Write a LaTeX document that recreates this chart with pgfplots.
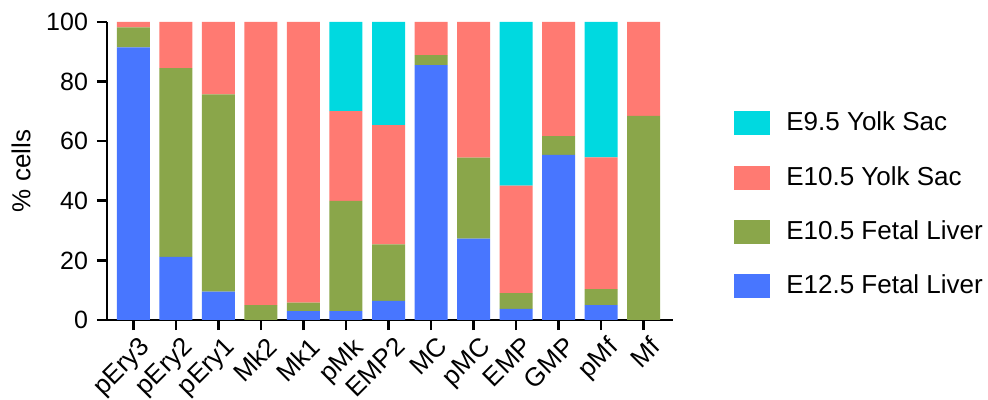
\documentclass[border=0pt]{standalone}
\usepackage{pgfplots}
\pgfplotsset{compat=1.18}
\usepackage{fontspec}
\setmainfont{Liberation Sans}
\definecolor{cyanc}{RGB}{0,217,224}
\definecolor{redc}{RGB}{255,122,114}
\definecolor{greenc}{RGB}{138,166,74}
\definecolor{bluec}{RGB}{72,118,255}
\pgfplotsset{sqlegend/.style={legend image code/.code={\fill[##1] (0pt,-6pt) rectangle (18pt,6pt);}}}
\begin{document}
\fontsize{13}{15}\selectfont
\begin{tikzpicture}
\useasboundingbox (-53.5pt,-40pt) rectangle (440.5pt,160pt);
\begin{axis}[
  scale only axis,
  width=283pt, height=149pt,
  ybar stacked,
  bar width=16.5pt,
  xmin=-0.62, xmax=12.69,
  ymin=0, ymax=100,
  ytick={0,20,40,60,80,100},
  xtick={0,1,2,3,4,5,6,7,8,9,10,11,12},
  xticklabels={pEry3,pEry2,pEry1,Mk2,Mk1,pMk,EMP2,MC,pMC,EMP,GMP,pMf,Mf},
  axis x line*=bottom,
  axis y line*=left,
  axis line style={line width=1.3pt,black},
  every tick/.style={line width=1.3pt,black},
  tick align=outside,
  major tick length=5pt,
  /pgf/number format/assume math mode=true,
  yticklabel style={font=\fontsize{12.5}{14}\selectfont},
  xticklabel style={rotate=45, anchor=north east, inner sep=1pt, yshift=-2.5pt, xshift=1pt, font=\fontsize{13}{15}\selectfont},
  ylabel={\% cells},
  ylabel style={at={(axis description cs:-0.152,0.5)}, anchor=center, font=\fontsize{13}{15}\selectfont},
  reverse legend,
  legend cell align=left,
  legend style={draw=none, fill=none, at={(axis description cs:1.097,0.386)}, anchor=west,
    font=\fontsize{13}{15}\selectfont, row sep=11.8pt, column sep=6pt},
]
\addplot[fill=bluec, draw=none, sqlegend] coordinates {(0,91.5) (1,21.2) (2,9.5) (3,0) (4,3.0) (5,3.0) (6,6.4) (7,85.5) (8,27.3) (9,3.7) (10,55.4) (11,5.0) (12,0)};
\addplot[fill=greenc, draw=none, sqlegend] coordinates {(0,6.7) (1,63.3) (2,66.2) (3,5.0) (4,2.8) (5,37.0) (6,19.0) (7,3.4) (8,27.2) (9,5.3) (10,6.3) (11,5.4) (12,68.5)};
\addplot[fill=redc, draw=none, sqlegend] coordinates {(0,1.8) (1,15.5) (2,24.3) (3,95.0) (4,94.2) (5,30.1) (6,40.0) (7,11.1) (8,45.5) (9,36.1) (10,38.3) (11,44.2) (12,31.5)};
\addplot[fill=cyanc, draw=none, sqlegend] coordinates {(0,0) (1,0) (2,0) (3,0) (4,0) (5,29.9) (6,34.6) (7,0) (8,0) (9,54.9) (10,0) (11,45.4) (12,0)};
\legend{E12.5 Fetal Liver,E10.5 Fetal Liver,E10.5 Yolk Sac,E9.5 Yolk Sac}
\end{axis}
\end{tikzpicture}
\end{document}
